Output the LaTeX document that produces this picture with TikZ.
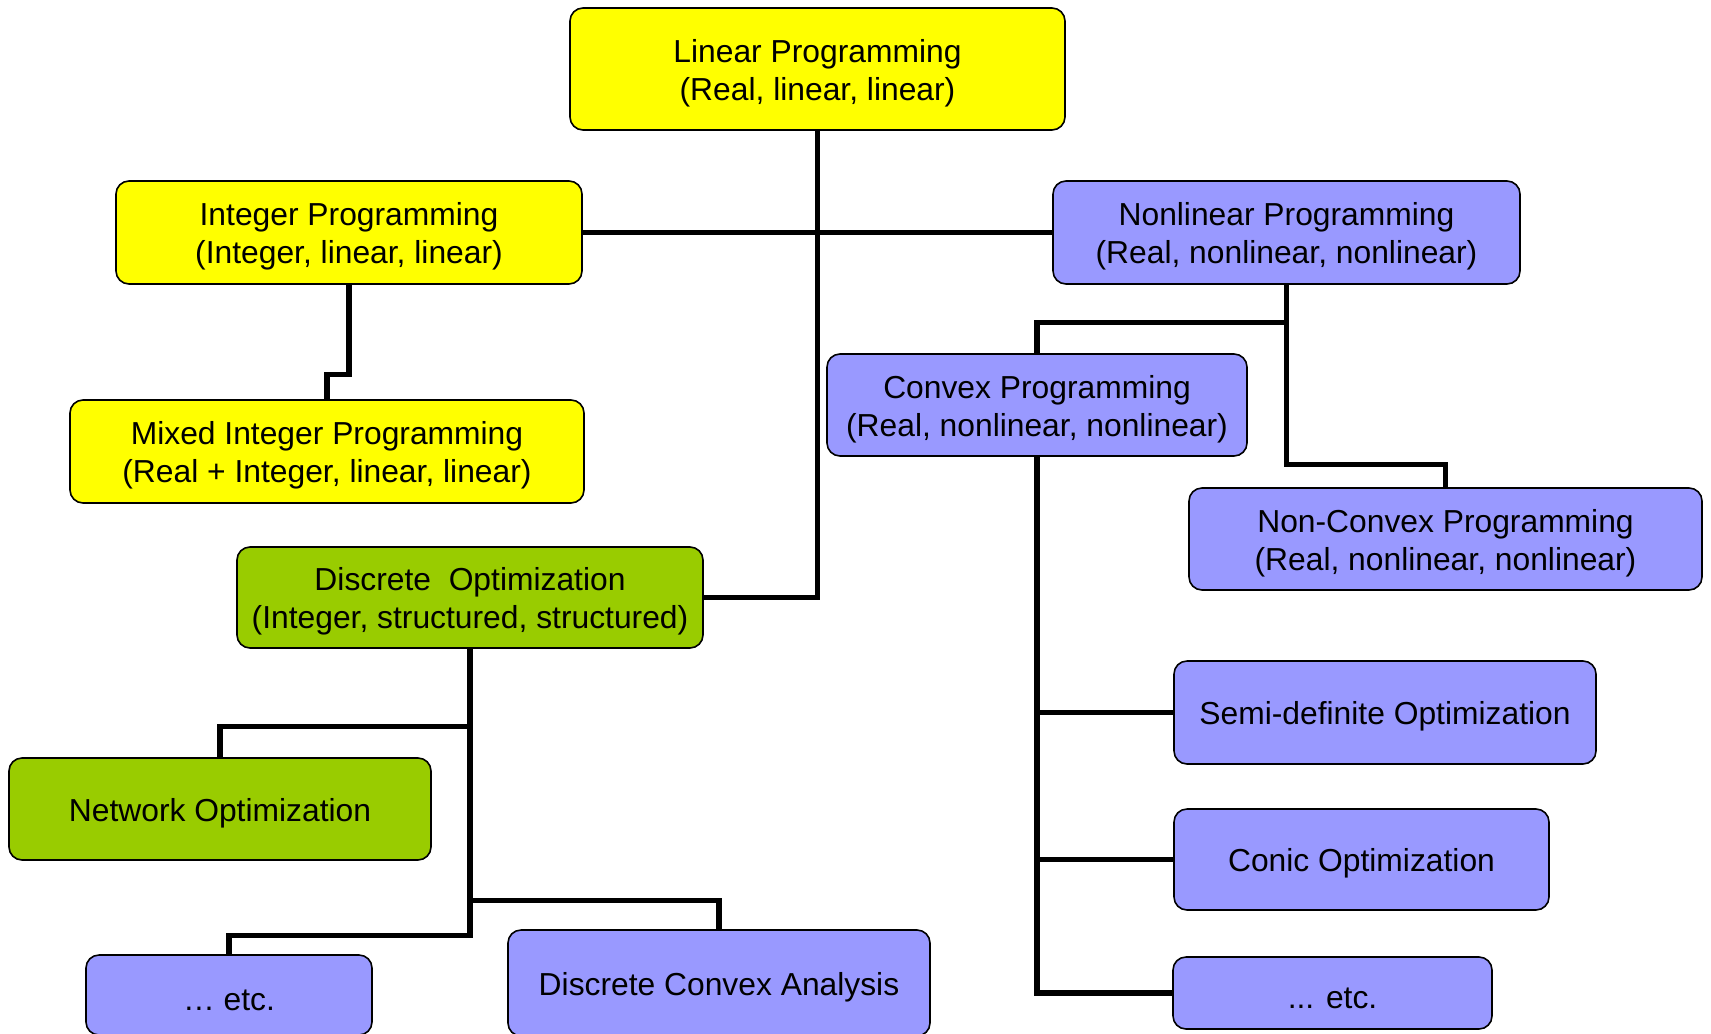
\documentclass[tikz,border=0pt]{standalone}
\usepackage{fontspec}
\setmainfont{Liberation Sans}
\definecolor{lpyellow}{HTML}{FFFF00}
\definecolor{dogreen}{HTML}{99CC00}
\definecolor{nlpblue}{HTML}{9999FF}
\newcommand{\tstrut}{\rule{0pt}{15.4pt}}
\begin{document}
\begin{tikzpicture}[x=0.5pt,y=-0.5pt,
  box/.style={draw,line width=0.8pt,rounded corners=6.5pt,align=center,
    inner sep=0pt,font=\fontsize{15.9}{19}\selectfont},
  link/.style={line width=2.6pt}]
\useasboundingbox (0,0) rectangle (1711,1033);
% boxes
\node[box,fill=lpyellow,minimum width=247.5pt,minimum height=61pt] (lp) at (817.5,69) {\tstrut Linear Programming\\(Real, linear, linear)};
\node[box,fill=lpyellow,minimum width=233pt,minimum height=51.5pt] (ip) at (349,232.5) {\tstrut Integer Programming\\(Integer, linear, linear)};
\node[box,fill=nlpblue,minimum width=233.5pt,minimum height=51.5pt] (nlp) at (1286.5,232.5) {\tstrut Nonlinear Programming\\(Real, nonlinear, nonlinear)};
\node[box,fill=lpyellow,minimum width=257pt,minimum height=51.5pt] (mip) at (327,451.5) {\tstrut Mixed Integer Programming\\(Real + Integer, linear, linear)};
\node[box,fill=nlpblue,minimum width=210pt,minimum height=51pt] (cvx) at (1037,405) {\tstrut Convex Programming\\(Real, nonlinear, nonlinear)};
\node[box,fill=nlpblue,minimum width=256.5pt,minimum height=51pt] (ncvx) at (1445.5,539) {\tstrut Non-Convex Programming\\(Real, nonlinear, nonlinear)};
\node[box,fill=dogreen,minimum width=233pt,minimum height=50.5pt] (disc) at (470,597.5) {\tstrut Discrete\ \ Optimization\\(Integer, structured, structured)};
\node[box,fill=dogreen,minimum width=211pt,minimum height=51pt] (net) at (220,809) {\tstrut Network Optimization};
\node[box,fill=nlpblue,minimum width=211pt,minimum height=51.5pt] (sdp) at (1385,712.5) {\tstrut Semi-definite Optimization};
\node[box,fill=nlpblue,minimum width=187.5pt,minimum height=50.5pt] (conic) at (1361.5,859.5) {\tstrut Conic Optimization};
\node[box,fill=nlpblue,minimum width=159.5pt,minimum height=36pt] (etcr) at (1332.5,993) {\tstrut ... etc.};
\node[box,fill=nlpblue,minimum width=143pt,minimum height=40pt] (etcl) at (229,995) {\tstrut … etc.};
\node[box,fill=nlpblue,minimum width=211pt,minimum height=53pt] (dca) at (719,983) {\tstrut Discrete Convex Analysis};
% connectors
\draw[link] (lp.south) |- (disc.east);
\draw[link] (ip.east) -- (nlp.west);
\draw[link] (ip.south) |- ([yshift=12.5pt]mip.north) -- (mip.north);
\draw[link] (nlp.south) -- ++(0,38) -| (cvx.north);
\draw[link] (nlp.south) -- ++(0,180) -| (ncvx.north);
\foreach \n in {sdp,conic,etcr}
  \draw[link] (cvx.south) |- (\n.west);
\draw[link] (disc.south) -- ++(0,78) -| (net.north);
\draw[link] (disc.south) -- ++(0,252) -| (dca.north);
\draw[link] (disc.south) -- ++(0,287) -| (etcl.north);
\end{tikzpicture}
\end{document}
